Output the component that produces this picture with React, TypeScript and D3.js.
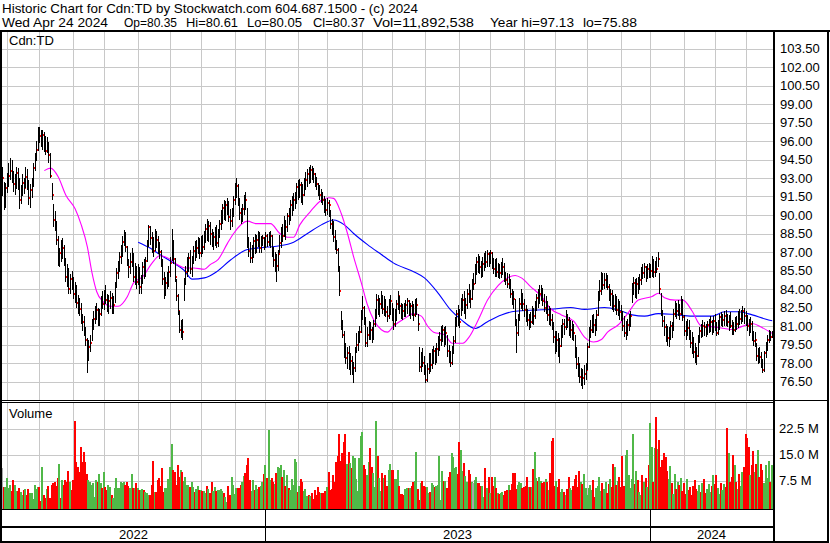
import React from "react";
import * as d3 from "d3";

// ---------------- DATA ----------------
const headerTitle = "Historic Chart for Cdn:TD by Stockwatch.com 604.687.1500 - (c) 2024";
const headerStats = ["Wed Apr 24 2024", "Op=80.35", "Hi=80.61", "Lo=80.05", "Cl=80.37", "Vol=11,892,538", "Year hi=97.13", "lo=75.88"];
const symbolLabel = "Cdn:TD";
const volumeLabel = "Volume";
const lastTradingDay = "2024-04-24";
const holidays = [
  "2022-05-23", "2022-07-01", "2022-08-01", "2022-09-05", "2022-10-10", "2022-12-26", "2022-12-27",
  "2023-01-02", "2023-02-20", "2023-04-07", "2023-05-22", "2023-07-03", "2023-08-07", "2023-09-04", "2023-10-09", "2023-12-25", "2023-12-26",
  "2024-01-01", "2024-02-19", "2024-03-29",
];
const priceTicks = [76.5, 78, 79.5, 81, 82.5, 84, 85.5, 87, 88.5, 90, 91.5, 93, 94.5, 96, 97.5, 99, 100.5, 102, 103.5];
const volumeTicks = [7.5, 15, 22.5];

const highs = [
  93.9,92.7,92.6,93.4,94.2,94.6,94.5,93.6,93.3,93.9,
  93.8,93.0,92.4,93.3,93.0,93.9,93.7,92.8,92.5,93.0,
  94.2,95.0,96.0,97.1,97.1,96.9,96.9,96.7,96.4,96.3,
  95.9,95.0,92.6,90.9,90.3,89.5,88.3,87.3,88.0,88.1,
  87.6,86.5,86.0,85.7,85.2,85.5,85.0,84.6,84.3,83.5,
  83.3,82.9,82.0,81.8,80.9,80.0,79.9,80.3,81.6,82.2,
  82.6,82.9,82.5,82.4,83.4,83.8,83.9,84.3,83.6,83.5,
  83.8,83.7,83.4,84.6,85.7,86.3,87.0,87.6,88.3,88.8,
  88.6,87.5,86.4,86.9,87.3,86.9,86.1,85.9,86.0,85.8,
  85.1,86.2,86.4,86.6,88.0,89.2,89.1,88.6,88.2,88.9,
  88.7,88.3,87.8,87.2,86.4,85.4,85.0,85.4,85.9,86.6,
  88.9,88.0,86.5,84.8,83.6,82.2,81.5,81.6,84.9,85.9,
  86.6,86.9,87.2,86.7,87.5,87.9,88.0,88.2,88.1,88.3,
  88.4,88.7,89.3,89.7,89.5,89.4,88.9,88.6,89.0,89.2,
  88.9,89.6,90.4,90.9,91.2,91.1,91.4,91.1,90.5,90.6,
  91.5,92.6,93.0,92.5,91.4,90.6,90.9,91.6,91.9,90.6,
  88.2,87.8,87.6,88.2,88.5,88.4,88.7,88.6,88.3,88.4,
  88.2,88.6,88.5,88.6,88.7,88.4,87.4,87.0,86.8,87.2,
  88.4,89.0,89.3,89.9,89.6,90.2,90.6,91.2,91.5,91.8,
  91.9,92.6,92.8,92.9,92.7,92.5,93.0,93.5,93.7,93.9,
  94.05,94.0,93.8,93.4,93.1,92.6,92.4,92.1,91.9,91.5,
  91.3,91.4,91.2,90.4,89.7,89.5,88.8,88.0,87.3,85.9,
  82.2,81.5,80.6,79.6,79.3,79.4,78.8,78.6,78.1,79.3,
  80.4,80.6,81.0,82.3,83.4,82.6,81.7,80.9,81.4,81.3,
  80.9,81.5,82.4,83.6,83.5,83.3,83.8,83.5,83.4,83.2,
  82.6,83.2,83.5,82.9,82.5,82.4,83.1,83.8,83.4,82.9,
  82.8,82.9,83.1,83.3,83.1,82.9,83.0,82.8,83.2,83.3,
  82.0,79.3,78.9,79.2,78.6,77.8,78.0,78.8,78.8,79.1,
  79.4,79.2,79.6,80.2,80.5,81.0,81.1,80.9,81.0,80.3,
  79.5,79.0,79.4,80.2,81.7,82.3,82.7,82.4,83.3,83.6,
  83.8,83.3,84.0,84.4,83.9,84.8,85.3,86.0,86.6,86.8,
  86.7,86.3,86.6,86.9,87.1,87.2,87.0,87.2,87.0,86.5,
  86.4,86.5,86.1,86.0,86.2,86.5,86.1,85.4,85.3,85.2,
  84.8,84.0,83.8,83.2,81.6,82.0,83.3,84.0,83.7,83.2,
  82.7,82.4,82.0,82.1,82.6,82.5,83.0,83.6,84.0,84.3,
  84.3,84.1,83.6,83.4,83.0,82.6,82.5,82.0,81.3,80.6,
  80.6,80.4,80.0,81.1,81.6,81.6,82.3,82.0,81.7,81.5,
  81.4,81.2,80.3,79.3,78.5,78.0,77.6,77.5,77.8,78.0,
  79.6,80.9,81.5,81.9,82.0,81.6,82.3,83.8,84.7,85.4,
  85.3,85.3,85.3,85.1,84.4,84.0,83.9,83.5,83.6,83.4,
  83.2,83.0,82.7,82.2,81.8,81.4,81.6,82.0,82.2,84.5,
  85.0,84.8,84.9,85.0,85.2,85.8,86.0,86.1,85.9,86.0,
  86.1,86.0,86.7,86.4,86.3,86.6,87.0,85.3,83.7,82.3,
  81.8,81.2,81.0,80.9,81.4,81.3,82.4,83.0,82.9,83.1,
  82.8,83.4,83.2,81.9,81.4,81.6,81.5,80.7,80.5,80.1,
  79.6,79.3,80.3,80.9,81.2,81.5,81.3,81.2,81.4,81.6,
  81.8,81.5,81.8,82.0,81.3,81.5,82.0,82.1,82.0,82.2,
  82.3,82.0,81.9,82.1,81.5,81.3,81.7,81.8,82.2,82.4,
  82.3,82.6,82.5,82.2,81.9,81.6,81.7,81.4,80.6,80.5,
  79.6,79.2,79.3,78.9,78.3,79.0,79.7,80.3,80.7,80.6,80.61,
];

const lows = [
  91.5,90.4,90.6,91.8,92.3,92.8,92.6,91.9,91.6,92.1,
  92.0,90.5,90.9,91.5,91.7,92.2,92.0,90.8,90.6,91.4,
  92.3,93.6,94.4,95.2,95.8,95.5,95.3,95.1,94.9,95.0,
  94.2,93.0,91.2,89.0,88.7,87.6,85.9,85.8,86.2,86.4,
  85.9,84.6,84.2,83.6,83.6,83.9,83.2,82.9,82.5,82.0,
  81.8,81.2,80.6,80.2,79.4,77.2,78.2,78.9,79.8,80.7,
  81.2,81.5,81.0,81.0,81.8,82.4,82.3,82.8,82.1,82.0,
  82.4,82.0,82.0,82.9,84.1,84.8,85.4,86.0,86.6,87.5,
  87.0,85.9,84.9,85.2,85.8,84.6,84.3,84.0,84.3,83.6,
  83.6,84.4,84.8,85.0,86.2,87.4,87.6,86.9,86.6,87.1,
  87.3,86.8,86.4,85.8,84.3,83.2,83.4,84.0,84.2,85.0,
  86.3,86.0,84.6,83.0,81.9,80.4,80.0,79.9,83.0,84.3,
  85.0,85.4,85.2,85.0,86.0,86.3,86.5,86.8,86.4,86.6,
  86.8,87.2,87.7,87.9,87.8,87.6,87.4,87.2,87.5,87.3,
  87.4,88.1,88.8,89.3,89.6,89.5,90.0,89.4,88.8,89.0,
  89.8,90.8,91.4,90.7,89.6,89.3,89.4,90.0,90.4,87.3,
  86.6,86.1,86.1,86.5,86.8,86.9,87.4,86.9,86.9,87.5,
  87.2,87.3,87.4,87.5,87.3,86.6,85.8,85.4,84.6,85.5,
  86.9,87.3,87.8,88.2,88.0,88.6,89.2,89.5,89.9,90.3,
  90.5,90.9,91.2,91.4,91.0,90.8,91.5,92.0,92.3,92.5,
  92.6,92.8,92.6,92.3,92.0,91.5,91.2,91.0,90.8,90.2,
  89.9,90.0,89.8,88.9,88.4,87.8,87.2,86.8,85.4,83.4,
  80.7,80.0,78.4,77.9,77.5,77.4,77.0,77.0,76.4,77.3,
  78.8,79.0,79.6,80.4,81.5,81.1,79.3,79.3,79.9,79.9,
  79.6,79.9,80.9,81.6,81.9,81.7,82.4,82.0,81.8,81.7,
  81.3,81.6,81.9,81.4,80.7,80.9,81.4,82.3,82.0,81.6,
  81.5,81.7,81.7,82.0,81.8,81.6,81.8,81.4,81.7,81.9,
  80.6,77.3,77.3,77.7,77.0,76.35,76.5,77.1,77.3,77.5,
  77.9,77.8,78.0,78.6,79.0,79.4,79.7,79.3,79.5,78.5,
  78.0,77.7,77.8,78.7,79.6,80.9,81.0,80.8,81.8,82.2,
  82.0,81.6,82.4,82.9,82.5,83.1,83.9,84.4,85.1,85.3,
  85.2,84.9,85.0,85.5,85.7,85.8,85.8,86.0,85.6,85.2,
  85.0,85.0,84.9,84.8,84.9,85.1,84.6,84.3,84.1,84.0,
  83.3,82.7,82.4,81.0,78.8,80.2,81.4,82.4,82.2,81.7,
  81.3,81.0,80.7,80.8,81.2,81.1,81.6,82.2,82.5,82.8,
  83.0,82.6,82.1,82.0,81.4,81.1,81.0,80.7,79.6,78.7,
  78.9,78.5,78.0,79.3,80.0,80.3,80.7,80.8,80.2,80.0,
  79.9,79.8,78.4,77.5,76.9,76.4,76.1,75.88,76.2,76.6,
  77.4,79.2,80.0,80.4,80.4,80.2,80.6,81.8,83.0,83.5,
  83.9,84.0,84.1,83.9,83.0,82.6,82.3,82.1,82.2,81.9,
  81.8,81.5,81.4,80.6,80.1,79.9,80.2,80.6,80.9,82.9,
  83.5,83.3,83.2,83.6,83.9,84.3,84.8,84.9,84.6,84.8,
  84.9,84.9,85.0,84.9,85.0,85.3,85.8,83.6,81.8,80.9,
  80.2,79.7,79.4,79.3,79.9,80.0,80.6,81.7,81.6,81.8,
  81.5,81.9,81.4,80.2,79.9,80.2,79.9,79.2,78.7,78.4,
  78.0,77.8,78.5,79.6,80.0,80.1,80.2,80.1,80.3,80.4,
  80.5,80.3,80.4,80.6,80.2,80.3,80.7,81.0,80.9,81.0,
  81.0,80.9,80.6,80.8,80.3,80.3,80.5,80.7,80.8,81.1,
  81.2,81.3,81.2,81.0,80.6,80.2,80.4,79.8,79.4,79.3,
  78.2,77.9,78.0,77.6,77.2,77.3,78.4,79.0,79.6,79.8,80.05,
];

const closes = [
  93.0,90.7,92.2,92.9,93.2,93.6,92.9,92.5,92.8,93.4,
  92.6,91.2,92.0,92.6,92.2,93.1,92.4,91.4,92.0,92.4,
  93.8,94.6,95.3,96.9,96.4,96.1,96.5,95.6,95.2,95.8,
  94.9,93.2,91.6,89.6,89.2,88.0,86.1,86.9,86.6,87.3,
  86.2,85.0,84.9,84.0,84.8,84.4,83.6,83.2,82.9,82.6,
  82.4,81.5,81.3,80.8,79.9,78.8,79.3,79.6,81.2,81.6,
  82.0,82.3,81.3,82.0,83.0,82.8,83.4,83.1,82.5,83.0,
  83.3,82.4,82.7,84.3,85.3,85.9,86.6,87.2,87.8,88.4,
  87.4,86.3,85.8,86.2,86.8,85.0,85.5,84.6,85.3,84.2,
  84.7,85.8,85.2,86.3,87.6,89.0,88.1,87.3,87.1,88.4,
  88.0,87.1,87.0,86.2,84.8,83.8,84.5,84.7,85.4,86.1,
  87.9,86.4,85.0,83.4,82.2,80.7,81.0,80.5,84.6,85.4,
  85.8,86.5,85.6,86.3,87.1,86.8,87.3,87.8,86.9,87.7,
  87.4,88.3,88.9,88.4,89.1,88.5,87.9,88.2,88.8,87.7,
  88.5,89.3,89.9,90.6,90.2,90.8,91.0,89.8,89.5,90.0,
  91.2,92.1,92.35,91.0,90.2,89.5,90.5,91.4,91.2,87.5,
  87.1,86.5,86.8,87.9,87.4,88.0,88.2,87.3,87.9,88.1,
  87.5,88.3,87.8,88.0,88.3,86.9,86.35,86.6,85.9,86.8,
  87.7,88.5,88.3,89.4,89.05,89.9,89.7,90.8,91.0,91.2,
  91.35,92.3,91.8,92.4,92.0,91.6,92.6,92.8,93.3,93.1,
  93.65,93.4,93.3,93.0,92.5,92.0,91.6,91.8,91.2,90.6,
  90.4,91.0,90.8,89.3,89.0,88.2,87.6,87.2,85.5,83.8,
  81.0,80.3,78.8,78.4,78.8,77.7,78.2,77.4,77.6,78.9,
  79.5,79.9,80.5,81.9,82.5,81.4,79.6,80.3,81.0,80.7,
  80.0,81.2,81.8,83.1,82.3,82.8,83.3,82.4,82.8,82.1,
  81.8,82.7,83.0,82.0,81.2,81.5,82.8,83.4,82.6,82.4,
  82.2,81.9,82.7,83.0,82.2,82.6,82.3,81.9,82.5,82.7,
  81.2,77.7,78.4,78.0,77.4,76.6,77.5,78.4,77.8,78.6,
  79.0,78.2,79.1,79.6,79.9,80.4,80.7,79.8,80.4,79.0,
  78.5,78.0,79.0,79.8,81.3,82.0,81.5,81.3,82.9,83.1,
  82.4,82.7,83.6,83.5,83.2,84.4,84.4,85.6,86.2,86.1,
  85.8,85.2,86.0,86.4,86.2,86.8,86.6,86.9,86.1,85.6,
  86.0,85.4,85.7,85.3,85.5,85.8,84.9,84.7,84.4,84.6,
  83.6,83.4,83.2,81.4,80.4,81.7,82.8,83.6,82.8,82.3,
  82.0,81.5,81.6,81.35,82.1,81.8,82.6,83.3,83.0,83.6,
  83.9,83.0,82.5,82.8,81.9,82.2,81.5,81.2,80.1,79.2,
  79.9,79.7,79.4,80.5,81.2,80.9,81.7,81.5,80.6,80.7,
  81.0,80.4,78.65,77.9,77.6,76.9,77.3,76.75,77.1,77.4,
  79.3,80.5,80.7,81.35,81.1,80.7,81.9,83.4,83.8,84.9,
  84.3,84.7,84.9,84.2,83.3,83.6,83.0,82.6,82.8,82.3,
  82.7,82.1,82.0,81.0,80.4,80.7,81.1,81.35,81.8,84.1,
  84.5,83.9,84.4,84.2,84.7,85.5,85.3,85.8,85.1,85.6,
  85.4,85.5,86.1,85.4,85.8,85.6,86.4,84.0,81.9,81.4,
  80.9,80.4,80.0,80.4,81.0,80.7,82.0,82.6,82.2,82.5,
  82.0,83.1,81.7,80.6,80.4,80.8,80.2,79.6,79.5,78.9,
  78.8,78.6,79.9,80.6,80.5,81.0,80.9,80.7,81.1,81.2,
  81.3,80.7,81.4,81.0,80.4,81.1,81.75,81.4,81.5,81.8,
  81.6,81.35,81.5,81.0,80.8,80.7,81.4,81.2,81.9,81.6,
  81.75,82.2,81.8,81.5,81.0,80.5,81.2,80.1,79.8,79.9,
  78.6,78.9,78.5,78.0,77.4,78.8,79.4,79.9,80.4,80.1,80.37,
];

// volume in millions of shares
const volumes = [
  11.0,5.7,5.5,8.3,5.2,6.2,4.6,7.6,6.2,4.6,
  4.6,5.2,4.3,3.3,4.8,5.0,3.3,5.0,3.8,3.8,
  2.2,6.2,5.0,5.5,5.5,1.5,11.5,3.3,2.4,5.0,
  5.9,2.4,6.2,6.7,7.2,5.9,8.1,12.3,2.4,7.6,
  6.2,7.6,7.2,10.3,7.2,4.8,7.6,24.8,
  12.9,11.5,10.0,17.3,12.9,15.8,12.9,9.5,7.6,7.2,
  6.2,6.7,2.8,7.6,7.2,9.4,6.7,5.2,10.0,5.7,
  4.9,6.2,5.7,3.3,2.4,5.2,8.1,5.2,5.2,7.2,
  6.7,7.2,6.2,7.2,5.8,5.2,9.4,5.2,5.2,6.7,
  5.2,4.8,4.8,5.0,4.8,4.3,4.0,3.3,3.3,6.2,
  13.0,
  4.3,4.3,7.6,8.1,6.0,11.0,4.3,5.2,5.2,7.8,11.5,
  18.0,
  10.5,10.0,6.2,11.9,8.6,10.5,10.0,7.5,8.6,6.2,
  6.2,5.5,7.2,5.5,4.3,5.0,5.9,4.8,4.8,4.6,
  4.4,3.8,5.9,5.0,4.0,7.2,4.6,5.7,4.6,4.8,
  4.8,5.0,4.6,3.9,2.8,1.2,5.9,3.3,8.6,6.2,
  3.6,5.2,5.2,5.2,6.2,7.0,8.8,9.6,12.0,13.9,
  7.6,4.6,7.6,4.8,6.2,5.0,5.5,6.0,7.2,9.4,
  12.0,8.1,
  22.1,
  7.6,8.1,7.2,
  6.5,9.7,11.5,11.0,12.0,8.5,10.5,5.9,9.1,5.2,
  4.8,7.8,6.2,13.6,12.9,4.3,5.9,7.8,7.2,4.6,
  5.0,3.0,3.3,3.0,3.8,2.1,4.8,3.3,5.5,4.3,
  4.0,3.8,4.0,4.4,5.5,10.0,4.8,5.0,9.1,7.2,
  12.9,14.5,
  20.9,13.1,
  15.5,18.7,20.9,12.4,15.8,12.6,11.0,14.6,13.9,7.8,
  4.5,13.9,20.3,21.5,12.0,10.7,9.1,12.9,16.8,11.5,
  9.8,5.7,
  24.7,
  14.6,8.1,4.6,9.8,8.1,9.1,5.9,10.5,12.2,10.5,
  10.5,8.0,7.8,10.5,5.9,3.6,3.6,3.3,5.0,5.2,
  5.2,5.2,5.9,7.2,7.4,15.8,5.0,2.0,6.9,7.4,
  5.9,5.5,5.5,3.8,4.3,6.9,6.2,5.5,5.9,6.2,
  14.6,1.9,10.2,7.5,7.5,5.4,8.5,10.0,15.3,14.2,
  11.0,11.5,9.4,
  18.7,
  16.3,10.2,12.6,8.8,7.2,10.5,9.4,7.0,6.7,7.6,
  8.6,6.7,6.9,5.9,5.9,2.8,11.0,5.2,8.6,3.8,
  8.6,6.0,8.4,5.2,4.0,3.6,4.0,4.3,3.3,4.6,
  4.8,6.2,4.8,6.5,9.6,9.6,5.0,6.2,7.2,6.7,
  5.2,5.5,6.0,8.4,5.5,5.5,5.5,10.7,15.8,8.1,
  7.4,8.4,7.5,6.7,7.2,7.8,7.2,4.8,9.8,
  19.0,19.7,
  6.0,7.5,5.5,8.0,4.3,5.0,4.3,3.3,5.0,8.6,5.2,
  4.8,6.0,7.8,9.0,5.5,10.3,7.2,6.5,9.4,5.2,
  3.3,5.2,6.2,4.8,7.6,2.8,5.2,6.0,8.6,4.6,
  6.7,5.0,7.0,3.8,6.4,8.0,5.6,12.4,11.5,6.2,
  7.4,8.6,5.6,14.5,6.0,14.8,16.3,9.0,5.2,8.0,
  20.8,6.4,10.2,7.6,4.2,3.3,9.2,7.0,8.3,5.5,
  12.0,24.0,17.3,7.0,17.0,25.9,16.5,19.3,11.5,13.5,
  15.4,14.4,10.2,8.0,11.6,6.8,3.6,9.5,5.0,7.0,
  6.2,8.2,4.6,6.9,3.5,8.0,4.8,5.6,3.2,6.0,
  7.6,5.0,4.4,6.2,4.2,6.8,7.8,3.8,5.0,6.6,
  4.3,5.8,9.0,6.4,9.0,5.2,3.6,6.7,4.8,6.5,
  5.6,22.7,15.4,7.2,8.6,14.9,11.9,7.0,5.0,9.5,
  6.0,10.0,11.5,20.8,19.7,17.3,9.0,11.9,16.0,10.0,
  12.4,16.3,8.4,12.4,10.5,6.9,11.9,8.2,13.0,7.0,11.89,
];

// moving averages: [bar index, value]
const maShort = [
  [27,93.6],[31,93.8],[36,93.1],[41,91.6],[47,90.5],[51,89.2],[55,87.4],[58,85.3],[61,83.8],[65,83.0],
  [70,82.6],[75,82.6],[81,83.4],[85,84.5],[91,85.0],[97,86.1],[102,86.7],[109,86.4],[113,86.0],[119,85.7],
  [124,85.7],[131,85.6],[135,86.0],[140,86.4],[146,87.7],[150,88.5],[159,89.5],[165,89.3],[174,89.3],[180,88.5],
  [185,88.2],[189,88.2],[193,89.2],[200,90.3],[207,91.2],[212,91.4],[215,91.35],[220,90.1],[224,88.5],[228,86.6],
  [233,84.5],[237,82.7],[241,81.5],[246,80.7],[250,80.5],[254,81.0],[261,81.6],[267,82.0],[272,81.8],[276,81.0],
  [280,80.5],[287,80.3],[292,79.6],[299,79.6],[303,80.1],[309,81.5],[315,83.1],[322,84.3],[328,84.9],[333,85.1],
  [337,84.9],[343,84.2],[350,83.4],[356,82.4],[363,81.9],[371,81.4],[378,80.1],[384,79.7],[389,79.9],[393,80.5],
  [400,81.1],[406,82.0],[413,83.1],[422,83.4],[426,83.65],[430,83.3],[437,83.1],[442,83.1],[448,82.2],[454,81.0],
  [461,80.95],[469,80.8],[475,80.7],[480,80.95],[487,81.2],[493,80.9],[500,80.4],
];
const maLong = [
  [88,87.8],[96,87.3],[102,86.8],[111,86.1],[118,85.5],[123,84.8],[131,84.9],[139,85.4],[148,86.35],[159,87.2],
  [172,87.4],[180,87.5],[189,87.8],[198,88.5],[207,89.2],[215,89.6],[222,89.2],[228,88.5],[237,87.6],[246,86.8],
  [254,86.1],[267,85.4],[274,84.9],[283,83.65],[291,82.3],[298,81.5],[307,80.8],[315,81.35],[324,81.9],[333,82.2],
  [346,82.3],[356,82.35],[369,82.5],[378,82.35],[391,82.5],[400,82.3],[409,81.9],[417,81.8],[426,82.0],[435,81.95],
  [448,81.8],[461,81.8],[469,82.15],[478,82.15],[487,81.9],[496,81.55],[500,81.43],
];

// ---------------- LAYOUT ----------------
const W = 830, H = 543;
const plotL = 2, plotR = 773, axisR = 827;
const priceTop = 32, priceBot = 400, volTop = 402, volBot = 509, rowBot = 526, bottom = 541;
const headerStatX = [2, 124, 186, 247, 313, 373, 490, 583];
const headerStatLen = [106, 53, 52, 55, 52, 101, 84, 54];
const FONT = "Arial, 'Liberation Sans', Helvetica, sans-serif";
const GRID = "#c8c8c8";
const UP = "#50b848", DOWN = "#ff0000", FLAT = "#a8a8a8";

function buildDates(n: number): Date[] {
  const hol = new Set(holidays);
  const [Y, M, D] = lastTradingDay.split("-").map(Number);
  let t = Date.UTC(Y, M - 1, D);
  const out: Date[] = [];
  while (out.length < n) {
    const d = new Date(t);
    const dow = d.getUTCDay();
    const key = d.toISOString().slice(0, 10);
    if (dow !== 0 && dow !== 6 && !hol.has(key)) out.push(d);
    t -= 86400000;
  }
  return out.reverse();
}

export default function App() {
  const N = closes.length;
  const dates = buildDates(N);
  const x = d3.scaleBand<number>().domain(d3.range(N)).range([plotL, plotR]).padding(0);
  const bw = x.bandwidth();
  const cx = (i: number) => (x(i) as number) + bw / 2;
  const xi = d3.scaleLinear().domain([0, N - 1]).range([cx(0), cx(N - 1)]);
  const y = d3.scaleLinear().domain([75, 105]).range([priceBot, 30]);
  const yv = d3.scaleLinear().domain([0, 30]).range([506.5, 402.5]);

  const monthStarts: number[] = [];
  const yearStarts: number[] = [];
  for (let i = 1; i < N; i++) {
    if (dates[i].getUTCMonth() !== dates[i - 1].getUTCMonth()) monthStarts.push(i);
    if (dates[i].getUTCFullYear() !== dates[i - 1].getUTCFullYear()) yearStarts.push(i);
  }
  const yearEdges = [plotL, ...yearStarts.map((i) => x(i) as number), plotR];
  const yearNames = [dates[0].getUTCFullYear(), ...yearStarts.map((i) => dates[i].getUTCFullYear())];

  const line = d3.line<number[]>().x((d) => xi(d[0])).y((d) => y(d[1])).curve(d3.curveMonotoneX);

  return (
    <svg width={W} height={H} style={{ position: "absolute", left: 0, top: 0, background: "#fff" }} fontFamily={FONT}>
      <rect x={0} y={0} width={W} height={H} fill="#fff" />
      {/* header */}
      <text x={2} y={12.5} fontSize={13} fill="#000" textLength={416} lengthAdjust="spacingAndGlyphs">{headerTitle}</text>
      {headerStats.map((s, k) => (
        <text key={k} x={headerStatX[k]} y={26.5} fontSize={13} fill="#000" textLength={headerStatLen[k]} lengthAdjust="spacingAndGlyphs">{s}</text>
      ))}

      {/* grid */}
      <g shapeRendering="crispEdges" stroke={GRID} strokeWidth={1}>
        {priceTicks.map((t) => (
          <line key={"hp" + t} x1={plotL} x2={plotR} y1={Math.round(y(t)) + 0.5} y2={Math.round(y(t)) + 0.5} />
        ))}
        {volumeTicks.map((t) => (
          <line key={"hv" + t} x1={plotL} x2={plotR} y1={Math.round(yv(t)) + 0.5} y2={Math.round(yv(t)) + 0.5} />
        ))}
        {monthStarts.map((i) => (
          <g key={"vm" + i}>
            <line x1={Math.floor(cx(i)) + 0.5} x2={Math.floor(cx(i)) + 0.5} y1={priceTop} y2={priceBot} />
            <line x1={Math.floor(cx(i)) + 0.5} x2={Math.floor(cx(i)) + 0.5} y1={volTop} y2={volBot} />
          </g>
        ))}
      </g>

      {/* moving averages */}
      <path d={line(maLong) || ""} fill="none" stroke="#0000ff" strokeWidth={1.1} />
      <path d={line(maShort) || ""} fill="none" stroke="#ff00ff" strokeWidth={1.1} />

      {/* price bars with close ticks, drawn in date order */}
      <g shapeRendering="crispEdges">
        {closes.map((c, i) => {
          const hi = Math.max(highs[i], lows[i], c);
          const lo = Math.min(highs[i], lows[i], c);
          const px = Math.floor(cx(i));
          const y1 = Math.round(y(hi));
          const y2 = Math.round(y(lo));
          return (
            <g key={"b" + i}>
              <rect x={px} y={y1} width={1} height={Math.max(1, y2 - y1)} fill="#000" />
              <rect x={px + 1} y={Math.round(y(c)) - 1} width={1} height={2} fill="#ff0000" />
            </g>
          );
        })}
      </g>

      {/* volume bars */}
      <g shapeRendering="crispEdges">
        {volumes.map((v, i) => {
          const prev = i > 0 ? closes[i - 1] : closes[i];
          const col = i === 0 || closes[i] === prev ? FLAT : closes[i] > prev ? UP : DOWN;
          const top = Math.round(yv(v));
          return <rect key={"v" + i} x={Math.floor(cx(i)) - 1} y={top} width={2} height={volBot - top} fill={col} />;
        })}
      </g>

      {/* frame */}
      <g shapeRendering="crispEdges" fill="#000">
        <rect x={0} y={30} width={W} height={2} />
        <rect x={0} y={30} width={2} height={H - 30} />
        <rect x={plotR} y={30} width={2} height={H - 30} />
        <rect x={axisR} y={30} width={2} height={H - 30} />
        <rect x={0} y={priceBot} width={axisR} height={1} />
        <rect x={plotL} y={volTop} width={plotR - plotL} height={1} />
        <rect x={plotL} y={volBot} width={plotR - plotL} height={1} />
        <rect x={plotL} y={rowBot} width={plotR - plotL} height={2} />
        <rect x={0} y={bottom} width={axisR + 2} height={2} />
        {yearStarts.map((i) => (
          <rect key={"yd" + i} x={Math.round(x(i) as number)} y={volBot} width={1} height={bottom - volBot} />
        ))}
      </g>

      {/* labels */}
      <text x={9} y={44.5} fontSize={13} fill="#000">{symbolLabel}</text>
      <text x={9} y={418} fontSize={13} fill="#000">{volumeLabel}</text>
      {priceTicks.map((t) => (
        <text key={"tp" + t} x={780} y={y(t) + 4.5} fontSize={13} fill="#000">{t.toFixed(2)}</text>
      ))}
      {volumeTicks.map((t) => (
        <text key={"tv" + t} x={779} y={yv(t) + 4.5} fontSize={13} fill="#000">{t.toFixed(1) + " M"}</text>
      ))}
      {yearNames.map((yr, k) => (
        <text key={"yr" + yr} x={(yearEdges[k] + yearEdges[k + 1]) / 2} y={538.5} fontSize={13} fill="#000" textAnchor="middle">{yr}</text>
      ))}
    </svg>
  );
}
